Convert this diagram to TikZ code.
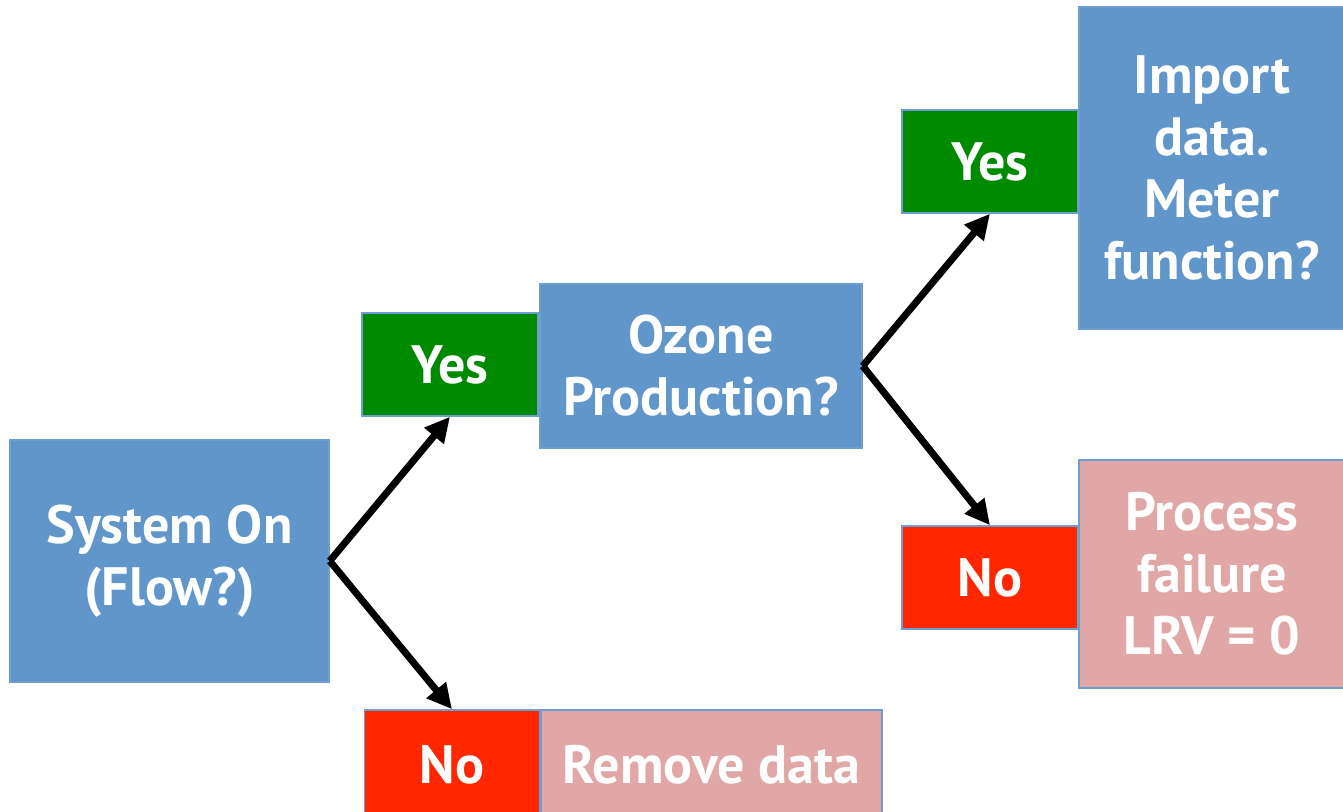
\documentclass[tikz,border=0pt]{standalone}
\usepackage{fontspec}
\setmainfont{PT Sans}
\usetikzlibrary{arrows.meta}
\definecolor{boxblue}{HTML}{6096C9}
\definecolor{edgeblue}{HTML}{6E9DD1}
\definecolor{yesgreen}{HTML}{008A00}
\definecolor{nored}{HTML}{FF2600}
\definecolor{pinkbox}{HTML}{E0A7A6}
\begin{document}
\begin{tikzpicture}[x=1pt,y=-1pt,
  card/.style={draw=edgeblue, line width=1.5pt, text=white,
    font=\bfseries\fontsize{54}{62}\selectfont, align=center, inner sep=0pt},
  flow/.style={line width=7pt, -{Triangle[length=25pt,width=24pt]}}]
\useasboundingbox (0,0) rectangle (1343,811);
% decision boxes
\node[card, fill=boxblue, minimum width=319pt, minimum height=242pt] (sys) at (169.5,561) {System On\\(Flow?)};
\node[card, fill=boxblue, minimum width=322pt, minimum height=164pt] (ozone) at (701,366) {Ozone\\Production?};
\node[card, fill=boxblue, minimum width=266pt, minimum height=322pt] (import) at (1212,168) {Import\\data.\\Meter\\function?};
% answers
\node[card, fill=yesgreen, minimum width=176pt, minimum height=103pt] (yes1) at (450,364.5) {Yes};
\node[card, fill=nored, minimum width=175pt, minimum height=110pt] (no1) at (452,765) {No};
\node[card, fill=yesgreen, minimum width=176pt, minimum height=103pt] (yes2) at (990,161.5) {Yes};
\node[card, fill=nored, minimum width=176pt, minimum height=103pt] (no2) at (990,577.5) {No};
% outcomes
\node[card, fill=pinkbox, minimum width=341pt, minimum height=110pt] (remove) at (711.5,765) {Remove data};
\node[card, fill=pinkbox, minimum width=266pt, minimum height=228pt] (fail) at (1212,574) {Process\\failure\\LRV = 0};
% branches
\draw[flow] (sys.east) -- (yes1.south);
\draw[flow] (sys.east) -- (no1.north);
\draw[flow] (ozone.east) -- (yes2.south);
\draw[flow] (ozone.east) -- (no2.north);
\end{tikzpicture}
\end{document}
